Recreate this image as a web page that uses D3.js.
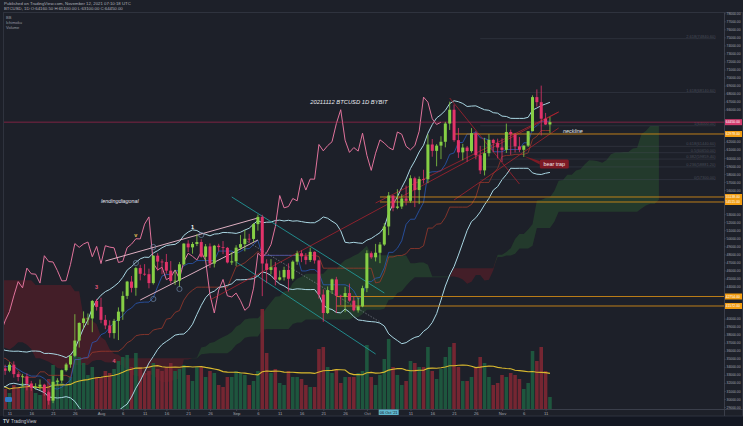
<!DOCTYPE html>
<html><head><meta charset="utf-8">
<script src="https://cdn.jsdelivr.net/npm/d3@7"></script>
<style>
html,body{margin:0;padding:0;background:#131722;}
svg{display:block;font-family:"Liberation Sans",Arial,sans-serif;}
</style></head><body>
<svg id="c" width="743" height="426"></svg>
<script>
// ---------------- DATA ----------------
// Earlier daily bars (off-screen, needed for the indicators) [open, high, low, close], from 2021-04-23
const historyStart = "2021-04-23";
const historyOHLC = [
[51700,52130,47460,51190],[51190,51200,48760,50100],[50100,50550,47000,49060],[49060,54350,48820,54020],
[54020,55450,53220,55030],[55030,56430,53880,54840],[54840,55200,52330,53560],[53560,57960,53010,57690],
[57690,58450,57050,57830],[57830,57930,56040,56580],[56580,58980,56480,57150],[57150,57200,53050,53200],
[53200,57910,52900,57440],[57440,58360,55200,56390],[56390,58650,55250,57310],[57310,59500,56970,58860],
[58860,59300,56230,58240],[58240,59580,53400,55840],[55840,56880,54370,56700],[56700,58000,48600,49150],
[49150,51370,46000,49720],[49720,51560,48800,49880],[49880,50700,46650,46760],[46760,49780,43830,46450],
[46450,46640,42000,43540],[43540,45800,42250,42900],[42900,43550,30000,36980],[36980,42450,34850,40750],
[40750,42200,33500,37370],[37370,38830,35250,37540],[37540,38270,31110,34770],[34770,39920,34560,38850],
[38850,39800,36420,38370],[38370,40850,37800,39300],[39300,40410,37170,38440],[38440,38440,34700,35680],
[35680,37340,33400,34620],[34620,36470,33380,35680],[35680,37530,34150,37300],[37300,37900,35670,36690],
[36690,38230,35920,37570],[37570,39480,37170,39190],[39190,39290,35600,36870],[36870,37920,34800,35520],
[35520,36480,35260,35800],[35800,36800,33330,33550],[33550,34070,31000,33400],[33400,37530,32400,37390],
[37390,38400,35780,36680],[36680,37690,35940,37330],[37330,37440,34600,35550],[35550,39380,34760,39020],
[39020,41060,38730,40520],[40520,41330,39510,40140],[40140,40530,38120,38350],[38350,39560,37370,38090],
[38090,38200,35130,35820],[35820,36460,34820,35480],[35480,36140,33340,35600],[35600,35740,31250,31680],
[31680,33300,28800,32510],[32510,34880,31700,33680],[33680,35230,32290,34660],[34660,35500,31280,31580],
[31580,32720,30150,32280],[32280,34750,32000,34700],[34700,35300,33860,34500],[34500,36600,34230,35910],
[35910,36100,34020,35040],[35040,35040,32710,33520],[33520,33940,32700,33800],[33800,34950,33330,34670],
[34670,35950,34100,35290],[35290,35290,33130,33690],[33690,35070,33550,34220],[34220,35060,33770,33860],
[33860,33920,32110,32880]
];
// Visible daily bars BYBIT BTCUSD 1D, 2021-07-09 .. 2021-11-12
const candleOHLC = [
[32880,34100,32260,33800],[33800,34260,33000,33510],[33510,34590,33330,34260],[34260,34680,32660,33090],
[33090,33340,32200,32730],[32730,33120,31600,32820],[32820,33190,31070,31880],[31880,32250,31020,31380],
[31380,31950,31170,31520],[31520,32430,31110,31780],[31780,31890,30410,30840],[30840,31040,29280,29790],
[29790,32860,29480,32140],[32140,32580,31710,32290],[32290,33650,31950,33580],[33580,34500,33410,34290],
[34290,35400,33880,35380],[35380,40550,35210,37270],[37270,39540,36400,39460],[39460,40900,38770,40020],
[40020,40640,39200,40020],[40020,42320,38310,42200],[42200,42450,41000,41460],
[41460,42600,39420,39850],[39850,40460,38690,39150],[39150,39780,37640,38200],[38200,39970,37510,39720],
[39720,41400,37330,40870],[40870,43390,39850,42830],[42830,44700,42450,44610],[44610,45310,43260,43830],
[43830,46450,42850,46290],[46290,46700,44760,45580],[45580,46780,45330,45530],[45530,46220,43770,44420],
[44420,47890,44240,47830],[47830,48140,45970,47100],[47100,47390,45520,47050],[47050,48050,45600,45970],
[45970,47160,44380,44690],[44690,46000,44200,44720],[44720,47050,43950,46760],[46760,49380,46640,49340],
[49340,49760,48290,48870],[48870,49530,48080,49290],[49290,50500,49030,49530],[49530,49870,47600,47700],
[47700,49280,47150,48990],[48990,49360,46320,46850],[46850,49170,46370,49070],[49070,49310,48390,48900],
[48900,49650,48030,48810],[48810,48920,46870,46990],[46990,48250,46690,47130],
[47130,49130,46560,48830],[48830,50400,48600,49270],[49270,51060,48380,49940],[49940,50560,49430,49920],
[49920,51900,49500,51760],[51760,52950,50950,52660],[52660,52920,42800,46860],[46860,47380,44410,46060],
[46060,47400,45510,46400],[46400,47040,44140,44850],[44850,45980,44720,45140],[45140,46460,44740,46060],
[46060,46880,43370,44960],[44960,47250,44750,47090],[47090,48450,46700,48130],[48130,48490,47030,47750],
[47750,48160,46750,47300],[47300,48830,47050,48310],[48310,48370,46850,47240],[47240,47330,42500,42990],
[42990,43640,39600,40700],[40700,44000,40570,43550],[43550,44980,43080,44880],[44880,45200,40700,42840],
[42840,42970,41680,42700],[42700,43950,40800,43180],[43180,44350,42100,42240],[42240,42790,40900,41030],
[41030,42620,40750,41520],[41520,44100,41420,43790],
[43790,48500,43290,48140],[48140,48360,47440,47630],[47630,49300,47120,48200],[48200,49530,46900,49220],
[49220,51890,49050,51470],[51470,55750,50380,55320],[55320,55330,53360,53790],[53790,56100,53620,53950],
[53950,55480,53650,54950],[54950,56560,54100,54660],[54660,57840,54420,57470],[57470,57670,53880,56000],
[56000,57690,54250,57370],[57370,58530,56820,57350],[57350,62930,56850,61670],[61670,62350,60150,60880],
[60880,61720,58960,61530],[61530,62700,59850,62010],[62010,64490,61320,64280],[64280,67000,63480,66000],
[66000,66640,62000,62210],[62210,63730,60000,60690],[60690,61750,59700,61290],[61290,61490,59510,60850],
[60850,63710,60650,63080],[63080,63290,59820,60330],[60330,61500,58000,58450],[58450,62500,57820,60590],
[60590,62960,60180,62250],[62250,62380,60720,61850],[61850,62400,59950,61300],
[61300,62440,59500,61000],[61000,64270,60620,63230],[63230,63520,60380,62940],[62940,63120,60680,61440],
[61440,62600,60720,61010],[61010,61560,60120,61530],[61530,63300,61360,63330],[63330,67790,63300,67570],
[67570,68530,66380,66940],[66940,69000,62800,64880],[64880,65600,64100,64160],[64160,65100,63100,64450]
];
// Volume per visible bar (relative units, Sep 7 = 100)
const volumes = [
24,20,16,24,22,26,24,26,16,14,22,30, 44,28,26,24,32,62,52,46,34,42,32,
32,38,36,40,48,52,54,42,56,42,36,38,46,40,38,42,46,38,40,44,34,28,42,42,32,38,36,24,22,32,32,
38,36,34,24,28,38,100,56,36,40,26,24,38,32,32,30,24,22,22,60,62,42,36,40,26,32,32,32,36,38,
64,32,24,34,50,70,42,34,24,28,48,46,42,42,62,38,30,40,52,62,66,42,28,28,32,42,52,46,32,24,26,
34,32,36,34,30,20,26,58,48,62,38,12
];
const lastPrice = 64450;
const xTickDates = ["2021-07-11","2021-07-16","2021-07-21","2021-07-26","2021-08-01","2021-08-06","2021-08-11",
"2021-08-16","2021-08-21","2021-08-26","2021-09-01","2021-09-06","2021-09-11","2021-09-16","2021-09-21","2021-09-26",
"2021-10-01","2021-10-11","2021-10-16","2021-10-21","2021-10-26","2021-11-01","2021-11-06","2021-11-11"];
const priceTicks = d3.range(29000, 78001, 1000);
// user drawings: horizontal levels
const hLevels = [
  {p:62978, from:"2021-10-21"}, {p:55138, from:"2021-10-04"}, {p:54515, from:"2021-10-04"},
  {p:42754, from:"2021-09-24"}, {p:41572, from:"2021-09-24"}
];
// fib retracement anchors
const fibLow = 57300, fibHigh = 64000;
const fibRatios = [0, 0.236, 0.382, 0.5, 0.618, 1, 1.618, 2.618];
// trend lines [date1, price1, date2, price2, kind]
const trendLines = [
  ["2021-08-31",55138,"2021-10-05",43190,"teal"],
  ["2021-09-01",47048,"2021-10-03",35598,"teal"],
  ["2021-08-02",47172,"2021-09-06",52524,"pink"],
  ["2021-08-10",42316,"2021-09-06",49783,"pink"],
  ["2021-09-03",49787,"2021-10-04",39582,"dots"],
  ["2021-10-20",67459,"2021-11-05",56756,"red"],
  ["2021-08-26",42318,"2021-11-14",65716,"red"],
  ["2021-10-21",54764,"2021-11-14",63723,"red"],
  ["2021-10-03",54391,"2021-11-14",65716,"red"]
];
const textNotes = [
  {d:"2021-09-18", p:66712, t:"20211112 BTCUSD 1D  BYBIT", size:5.8},
  {d:"2021-11-15", p:63150, t:"neckline", size:5.4},
  {d:"2021-08-01", p:54391, t:"lendingdiagonal", size:5.4}
];
const waveLabels = [
  {d:"2021-08-22", p:51155, t:"1", c:"#ffffff"},
  {d:"2021-07-31", p:43700, t:"3", c:"#e0557a"},
  {d:"2021-08-04", p:34500, t:"4", c:"#e0557a"},
  {d:"2021-08-09", p:50100, t:"v", c:"#e6c45a"}
];
const circleMarks = [
  {d:"2021-08-09", p:46923}, {d:"2021-08-13", p:48914}, {d:"2021-08-19", p:43687},
  {d:"2021-08-24", p:50408}, {d:"2021-08-13", p:42443}
];
const bearTrap = {d:"2021-11-13", p:59250, tipD:"2021-11-06", tipP:60240, t:"bear trap"};

// ---------------- SETUP ----------------
const parse = d3.utcParse("%Y-%m-%d");
const DAY = 864e5;
const t0 = parse(historyStart).getTime();
const dateAt = i => new Date(t0 + i*DAY);
const all = historyOHLC.concat(candleOHLC);
const bars = all.map((v,i)=>({date:dateAt(i), o:v[0], h:v[1], l:v[2], c:v[3]}));
const nHist = historyOHLC.length;
const visBars = bars.slice(nHist);

const W = 743, H = 426;
const P = {l:3, r:724, t:13, b:409};
const x = d3.scaleUtc().domain([parse("2021-08-01"), parse("2021-11-01")]).range([101, 502]);
const y = d3.scaleLinear().domain([29000, 78000]).range([407, 13.3]);
const yVol = d3.scaleLinear().domain([0, 100]).range([409, 309]);
const step = x(dateAt(1)) - x(dateAt(0));

const svg = d3.select("#c");
svg.append("rect").attr("width",W).attr("height",H).attr("fill","#131722");
svg.append("rect").attr("width",W).attr("height",416).attr("fill","#1d2029");

const defs = svg.append("defs");
defs.append("clipPath").attr("id","pc").append("rect")
  .attr("x",P.l).attr("y",P.t).attr("width",P.r-P.l).attr("height",P.b-P.t);
const g = svg.append("g").attr("clip-path","url(#pc)");

// ---------------- INDICATORS ----------------
function donch(i,n){ let hi=-Infinity, lo=Infinity;
  for(let k=i-n+1;k<=i;k++){ hi=Math.max(hi,bars[k].h); lo=Math.min(lo,bars[k].l);} return (hi+lo)/2; }
const lead = [];
for(let i=51;i<bars.length;i++){
  const A = (donch(i,9)+donch(i,26))/2, B = donch(i,52);
  lead.push({date:dateAt(i+25), A, B});
}
const conv = [], base = [], bb = [];
for(let i=8;i<bars.length;i++) conv.push({date:bars[i].date, v:donch(i,9)});
for(let i=25;i<bars.length;i++) base.push({date:bars[i].date, v:donch(i,26)});
for(let i=19;i<bars.length;i++){
  const win = bars.slice(i-19,i+1).map(b=>b.c);
  const m = d3.mean(win); const s = Math.sqrt(d3.mean(win.map(v=>(v-m)*(v-m))));
  bb.push({date:bars[i].date, up:m+2*s, lo:m-2*s});
}
const lag = bars.map((b,i)=>({date:dateAt(i-25), v:b.c}));
const vol = visBars.map((b,i)=>({date:b.date, v:volumes[i], up:b.c>=b.o}));
const volMA = vol.map((d,i)=>({date:d.date, v:d3.mean(vol.slice(Math.max(0,i-19),i+1), e=>e.v)}));

// ---------------- CLOUD ----------------
g.append("path").datum(lead)
  .attr("d", d3.area().x(d=>x(d.date)).y0(d=>y(d.B)).y1(d=>y(Math.max(d.A,d.B))))
  .attr("fill","#2f6a33").attr("fill-opacity",0.36);
g.append("path").datum(lead)
  .attr("d", d3.area().x(d=>x(d.date)).y0(d=>y(d.A)).y1(d=>y(Math.max(d.A,d.B))))
  .attr("fill","#6a1c27").attr("fill-opacity",0.5);

// ---------------- VOLUME ----------------
g.selectAll("rect.vol").data(vol).join("rect").attr("class","vol")
  .attr("x",d=>x(d.date)-step/2+0.4).attr("width",step-0.8)
  .attr("y",d=>yVol(d.v)).attr("height",d=>yVol(0)-yVol(d.v))
  .attr("fill",d=>d.up?"#1f5a3f":"#7a2733").attr("fill-opacity",0.95);
g.append("path").datum(volMA)
  .attr("d", d3.line().x(d=>x(d.date)).y(d=>yVol(d.v)))
  .attr("fill","none").attr("stroke","#d9b92e").attr("stroke-width",1.1);

// ---------------- LINES ----------------
const ln = key => d3.line().x(d=>x(d.date)).y(d=>y(d[key]));
g.append("path").datum(base).attr("d",ln("v")).attr("fill","none").attr("stroke","#a13a2b").attr("stroke-width",0.9).attr("stroke-opacity",0.85);
g.append("path").datum(conv).attr("d",ln("v")).attr("fill","none").attr("stroke","#2a5fc4").attr("stroke-width",0.9).attr("stroke-opacity",0.8);
g.append("path").datum(bb).attr("d",ln("up")).attr("fill","none").attr("stroke","#a9d6e2").attr("stroke-width",1);
g.append("path").datum(bb).attr("d",ln("lo")).attr("fill","none").attr("stroke","#a9d6e2").attr("stroke-width",1);
g.append("path").datum(lag).attr("d",ln("v")).attr("fill","none").attr("stroke","#e1739c").attr("stroke-width",1);

// fib levels (faint)
const fibStart = parse("2021-10-27"), fibEnd = parse("2021-12-20");
fibRatios.forEach(r=>{
  const p = fibLow + r*(fibHigh-fibLow);
  g.append("line").attr("x1",x(fibStart)).attr("x2",x(fibEnd)).attr("y1",y(p)).attr("y2",y(p))
    .attr("stroke","#4a4f5c").attr("stroke-opacity",0.45).attr("stroke-width",0.8);
  g.append("text").attr("x",x(fibEnd)).attr("y",y(p)-1).attr("text-anchor","end")
    .attr("font-size",4).attr("fill","#5d6270").attr("fill-opacity",0.7)
    .text(`${r}(${p.toFixed(2)})`);
});

// trend lines
const tlStyle = {
  teal:{c:"#23a3a3", w:0.9, o:0.9},
  pink:{c:"#f3bfd2", w:1, o:0.9},
  dots:{c:"#9aa0ab", w:0.8, o:0.7, dash:"1.5,1.5"},
  red:{c:"#b8232f", w:0.8, o:0.9}
};
trendLines.forEach(t=>{
  const s = tlStyle[t[4]];
  const l = g.append("line").attr("x1",x(parse(t[0]))).attr("y1",y(t[1]))
    .attr("x2",x(parse(t[2]))).attr("y2",y(t[3]))
    .attr("stroke",s.c).attr("stroke-width",s.w).attr("stroke-opacity",s.o);
  if(s.dash) l.attr("stroke-dasharray",s.dash);
});

// horizontal levels
hLevels.forEach(h=>{
  g.append("line").attr("x1",x(parse(h.from))).attr("x2",P.r).attr("y1",y(h.p)).attr("y2",y(h.p))
    .attr("stroke","#d98e16").attr("stroke-width",1).attr("stroke-opacity",0.85);
});
// last price line
g.append("line").attr("x1",P.l).attr("x2",P.r).attr("y1",y(lastPrice)).attr("y2",y(lastPrice))
  .attr("stroke","#b3264f").attr("stroke-width",0.8).attr("stroke-opacity",0.8);

// ---------------- CANDLES ----------------
const up = "#86cf45", dn = "#e2336a";
const cg = g.append("g");
cg.selectAll("line.w").data(bars).join("line").attr("class","w")
  .attr("x1",d=>x(d.date)).attr("x2",d=>x(d.date)).attr("y1",d=>y(d.h)).attr("y2",d=>y(d.l))
  .attr("stroke",d=>d.c>=d.o?up:dn).attr("stroke-width",0.8);
cg.selectAll("rect.b").data(bars).join("rect").attr("class","b")
  .attr("x",d=>x(d.date)-1.5).attr("width",3)
  .attr("y",d=>y(Math.max(d.o,d.c))).attr("height",d=>Math.max(0.8,Math.abs(y(d.o)-y(d.c))))
  .attr("fill",d=>d.c>=d.o?up:dn);

// ---------------- ANNOTATIONS ----------------
textNotes.forEach(n=>{
  g.append("text").attr("x",x(parse(n.d))).attr("y",y(n.p)).attr("font-size",n.size)
    .attr("font-style","italic").attr("fill","#e6e8ee").text(n.t);
});
waveLabels.forEach(n=>{
  g.append("text").attr("x",x(parse(n.d))).attr("y",y(n.p)).attr("text-anchor","middle")
    .attr("font-size",5.5).attr("font-weight","bold").attr("fill",n.c).text(n.t);
});
circleMarks.forEach(n=>{
  g.append("circle").attr("cx",x(parse(n.d))).attr("cy",y(n.p)).attr("r",2.6)
    .attr("fill","none").attr("stroke","#6f86a8").attr("stroke-width",0.7);
});
{
  const bx = x(parse(bearTrap.d)), by = y(bearTrap.p);
  const tx = x(parse(bearTrap.tipD)), ty = y(bearTrap.tipP);
  const bw = 29, bh = 9;
  g.append("path").attr("d",`M${tx},${ty} L${bx-bw/2},${by-bh/2+1.5} L${bx-bw/2},${by-bh/2+5} Z`).attr("fill","#7d1a24");
  g.append("rect").attr("x",bx-bw/2).attr("y",by-bh/2).attr("width",bw).attr("height",bh).attr("rx",1.5).attr("fill","#7d1a24");
  g.append("text").attr("x",bx).attr("y",by+2).attr("text-anchor","middle").attr("font-size",5.4)
    .attr("fill","#f0e6e8").text(bearTrap.t);
}

// ---------------- AXES ----------------
svg.append("rect").attr("x",P.l+0.5).attr("y",12.5).attr("width",W-P.l-1).attr("height",416-12.5)
  .attr("fill","none").attr("stroke","#2f333e").attr("stroke-width",1);
svg.append("line").attr("x1",P.r+0.5).attr("x2",P.r+0.5).attr("y1",12.5).attr("y2",416).attr("stroke","#3a3e4a");
svg.append("line").attr("x1",P.l).attr("x2",W).attr("y1",P.b+0.5).attr("y2",P.b+0.5).attr("stroke","#3a3e4a");

const boxPrices = hLevels.map(h=>h.p).concat([lastPrice]);
const shownTicks = priceTicks.filter(t=>boxPrices.every(p=>Math.abs(y(t)-y(p))>=5.5));
const ya = svg.append("g").attr("transform",`translate(${P.r+0.5},0)`)
  .call(d3.axisRight(y).tickValues(shownTicks).tickFormat(d=>d.toFixed(2)).tickSize(1).tickPadding(1));
ya.select(".domain").remove();
ya.selectAll("line").attr("stroke","#4a4e5a");
ya.selectAll("text").attr("font-size",3.4).attr("fill","#a3a6af").attr("font-family","Liberation Sans, Arial, sans-serif");

const xa = svg.append("g").attr("transform",`translate(0,${P.b+0.5})`)
  .call(d3.axisBottom(x).tickValues(xTickDates.map(parse))
    .tickFormat(d=>d.getUTCDate()===1?d3.utcFormat("%b")(d):d.getUTCDate()).tickSize(1.2).tickPadding(1));
xa.select(".domain").remove();
xa.selectAll("line").attr("stroke","#4a4e5a");
xa.selectAll("text").attr("font-size",4.2).attr("fill","#a3a6af").attr("font-family","Liberation Sans, Arial, sans-serif");

// axis price boxes
function priceBox(p, fill, txtCol){
  const yy = y(p);
  svg.append("rect").attr("x",P.r+1).attr("y",yy-3).attr("width",W-P.r-2).attr("height",6).attr("fill",fill);
  svg.append("text").attr("x",P.r+1.8).attr("y",yy+1.3).attr("font-size",3.4).attr("fill",txtCol).text(p.toFixed(2));
}
hLevels.forEach(h=>priceBox(h.p,"#f29d12","#ffffff"));
priceBox(lastPrice,"#d23c6e","#ffffff");

// highlighted date on time axis
{
  const d = parse("2021-10-06"), cx = x(d);
  svg.append("rect").attr("x",cx-10).attr("y",P.b+0.5).attr("width",20).attr("height",5.5).attr("fill","#5fb6cc");
  svg.append("text").attr("x",cx).attr("y",P.b+4.6).attr("text-anchor","middle").attr("font-size",3.9)
    .attr("fill","#10141c").text("06 Oct '21");
}

// ---------------- HEADER / LEGEND ----------------
svg.append("text").attr("x",4).attr("y",5.2).attr("font-size",4.3).attr("fill","#aeb1ba")
  .text("Published on TradingView.com, November 12, 2021 07:10:18 UTC");
svg.append("text").attr("x",4).attr("y",10.2).attr("font-size",4.3).attr("fill","#aeb1ba")
  .text("BTCUSD, 1D O:64160.50 H:65100.00 L:63100.00 C:64450.00");
["BB","Ichimoku","Volume"].forEach((t,i)=>{
  svg.append("text").attr("x",6).attr("y",18.5+i*5).attr("font-size",4).attr("fill","#9598a1").text(t);
});
// small blue button in chart corner
svg.append("rect").attr("x",5).attr("y",397).attr("width",7).attr("height",5).attr("rx",1.2).attr("fill","#2f78c4");
// footer logo
svg.append("text").attr("x",3).attr("y",423).attr("font-size",5).attr("font-weight","bold").attr("fill","#c9ccd4").text("TV");
svg.append("text").attr("x",11).attr("y",423).attr("font-size",4.6).attr("fill","#c9ccd4").text("TradingView");
</script>
</body></html>
